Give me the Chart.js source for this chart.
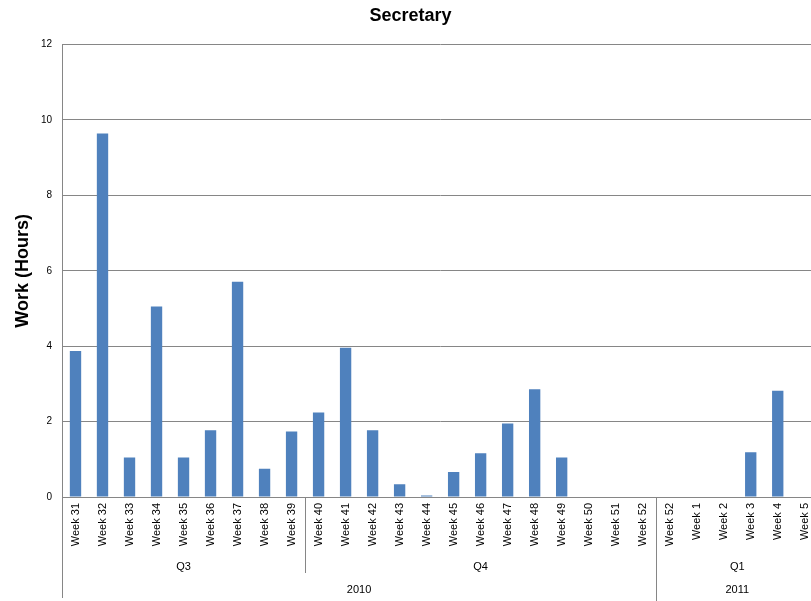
<!DOCTYPE html>
<html>
<head>
<meta charset="utf-8">
<script src="https://cdn.jsdelivr.net/npm/chart.js@4/dist/chart.umd.min.js"></script>
<style>
  html, body { margin: 0; padding: 0; overflow: hidden; background: #fff; }
  #wrap { width: 824px; height: 601px; }
</style>
</head>
<body>
<div id="wrap"><canvas id="chart" width="824" height="601"></canvas></div>
<script>
const weeks = ['Week 31', 'Week 32', 'Week 33', 'Week 34', 'Week 35', 'Week 36', 'Week 37', 'Week 38', 'Week 39',
    'Week 40', 'Week 41', 'Week 42', 'Week 43', 'Week 44', 'Week 45', 'Week 46', 'Week 47', 'Week 48', 'Week 49',
    'Week 50', 'Week 51', 'Week 52',
    'Week 52', 'Week 1', 'Week 2', 'Week 3', 'Week 4', 'Week 5'];
const hours = [3.87, 9.64, 1.05, 5.05, 1.05, 1.77, 5.71, 0.75, 1.74,
    2.24, 3.96, 1.77, 0.34, 0.04, 0.66, 1.16, 1.95, 2.86, 1.05,
    0, 0, 0,
    0, 0, 0, 1.19, 2.82, 0];
const quarters = ['Q3', 'Q4', 'Q1'];
const quarterSpans = [9, 13, 6];
const years = ['2010', '2011'];
const yearSpans = [22, 6];

const axisGray = '#868686';
const labelFont = '11px "Liberation Sans", Arial, sans-serif';

// draws the Quarter / Year rows under the week labels
const groupAxis = {
    id: 'groupAxis',
    afterDraw(chart) {
        const ctx = chart.ctx;
        const x = chart.scales.x;
        const area = chart.chartArea;
        const bottom = chart.height;

        function edge(i) {
            if (i <= 0) return area.left;
            if (i >= weeks.length) return area.right;
            return (x.getPixelForValue(i - 1) + x.getPixelForValue(i)) / 2;
        }

        const yearEdges = [];
        let n = 0;
        yearSpans.forEach(function(s) { n += s; yearEdges.push(n); });

        ctx.save();
        ctx.strokeStyle = axisGray;
        ctx.lineWidth = 1;
        ctx.fillStyle = '#000';
        ctx.font = labelFont;
        ctx.textAlign = 'center';
        ctx.textBaseline = 'middle';

        // outer lines
        ctx.beginPath();
        ctx.moveTo(Math.round(area.left) + 0.5, area.bottom);
        ctx.lineTo(Math.round(area.left) + 0.5, bottom - 3);
        ctx.stroke();

        let start = 0;
        quarters.forEach(function(q, k) {
            const end = start + quarterSpans[k];
            const x0 = edge(start), x1 = edge(end);
            ctx.fillText(q, (x0 + x1) / 2, 567);
            if (end < weeks.length) {
                const full = yearEdges.indexOf(end) >= 0;
                const px = Math.round(x1) + 0.5;
                ctx.beginPath();
                ctx.moveTo(px, area.bottom);
                ctx.lineTo(px, full ? bottom : 573);
                ctx.stroke();
            }
            start = end;
        });

        start = 0;
        years.forEach(function(yr, k) {
            const end = start + yearSpans[k];
            ctx.fillText(yr, (edge(start) + edge(end)) / 2, 590);
            start = end;
        });
        ctx.restore();
    }
};

new Chart(document.getElementById('chart'), {
    type: 'bar',
    data: {
        labels: weeks,
        datasets: [{
            label: 'Work (Hours)',
            data: hours,
            backgroundColor: '#4f81bd',
            borderWidth: 0,
            barPercentage: 0.42,
            categoryPercentage: 1
        }]
    },
    options: {
        responsive: false,
        animation: false,
        devicePixelRatio: 1,
        layout: { padding: { left: 0, right: 3, top: 0, bottom: 0 } },
        plugins: {
            legend: { display: false },
            tooltip: { enabled: false },
            title: {
                display: true,
                text: 'Secretary',
                color: '#000',
                font: { family: '"Liberation Sans", Arial, sans-serif', size: 18, weight: 'bold' },
                padding: { top: 5, bottom: 18 }
            }
        },
        scales: {
            x: {
                grid: { display: false, drawTicks: false },
                border: { display: true, color: axisGray },
                ticks: {
                    autoSkip: false,
                    minRotation: 90,
                    maxRotation: 90,
                    padding: 6,
                    color: '#000',
                    font: { family: '"Liberation Sans", Arial, sans-serif', size: 11 }
                },
                afterFit(scale) { scale.height = 104; }
            },
            y: {
                min: 0,
                max: 12,
                ticks: {
                    stepSize: 2,
                    padding: 10,
                    color: '#000',
                    font: { family: '"Liberation Sans", Arial, sans-serif', size: 10 }
                },
                grid: { color: axisGray, drawTicks: false },
                border: { display: true, color: axisGray },
                title: {
                    display: true,
                    text: 'Work (Hours)',
                    color: '#000',
                    font: { family: '"Liberation Sans", Arial, sans-serif', size: 18, weight: 'bold' },
                    padding: { top: 12, bottom: 0 }
                },
                afterFit(scale) { scale.width = 62; }
            }
        }
    },
    plugins: [groupAxis]
});
</script>
</body>
</html>
